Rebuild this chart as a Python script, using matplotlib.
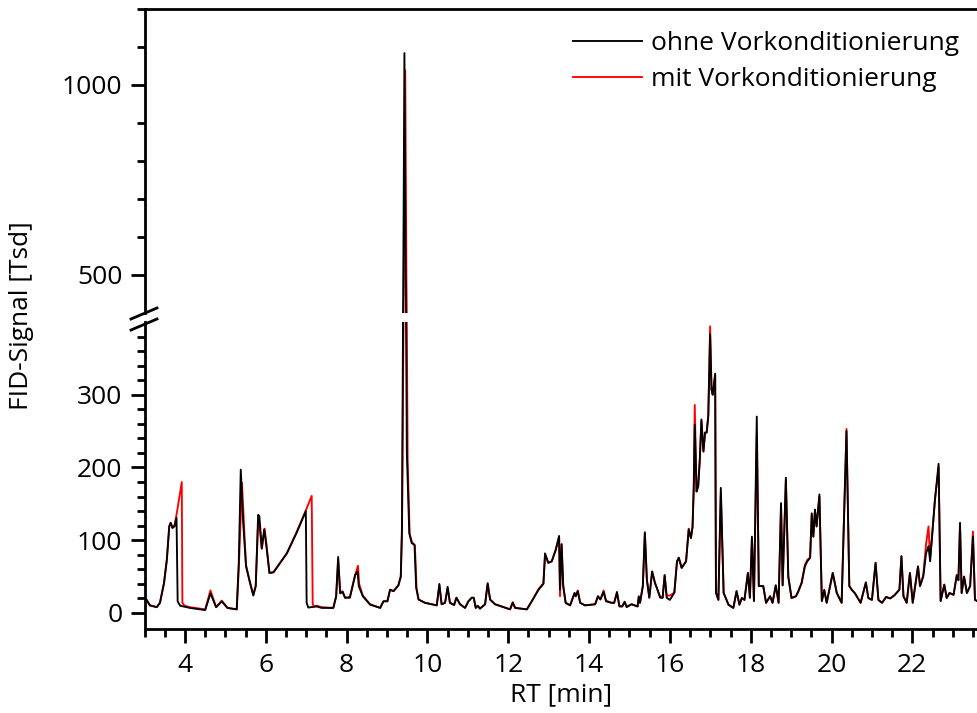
import matplotlib
matplotlib.use("Agg")
import matplotlib.pyplot as plt
from matplotlib.lines import Line2D
from matplotlib.ticker import MultipleLocator, FixedLocator

plt.rcParams['font.family'] = ['Open Sans', 'DejaVu Sans']

# chromatogram without pre-conditioning (retention time in min, FID signal in thousands)
rt_ohne = [3.00, 3.05, 3.13, 3.30, 3.38, 3.48, 3.55, 3.61, 3.645, 3.69, 3.74, 3.79, 3.818, 3.88,
           4.12, 4.50, 4.63, 4.77, 4.91, 5.05, 5.28, 5.33, 5.38, 5.44, 5.51, 5.61, 5.69, 5.75,
           5.81, 5.84, 5.90, 5.96, 6.005, 6.09, 6.19, 6.52, 6.76, 6.99, 7.01, 7.05, 7.26, 7.38,
           7.67, 7.74, 7.79, 7.84, 7.90, 7.96, 8.08, 8.21, 8.27, 8.30, 8.40, 8.58, 8.83, 8.91,
           9.01, 9.075, 9.16, 9.28, 9.34, 9.37, 9.40, 9.43, 9.46, 9.49, 9.55, 9.61, 9.68, 9.72,
           9.78, 9.94, 10.23, 10.295, 10.35, 10.435, 10.50, 10.556, 10.66, 10.716, 10.807, 10.93,
           11.013, 11.096, 11.145, 11.195, 11.245, 11.30, 11.426, 11.49, 11.55, 11.673, 12.045,
           12.11, 12.17, 12.46, 12.58, 12.75, 12.87, 12.91, 12.99, 13.076, 13.175, 13.258, 13.28,
           13.32, 13.36, 13.42, 13.53, 13.64, 13.67, 13.72, 13.78, 13.90, 14.15, 14.22, 14.28,
           14.36, 14.42, 14.56, 14.62, 14.69, 14.75, 14.82, 14.88, 14.93, 15.05, 15.20, 15.23,
           15.26, 15.33, 15.38, 15.43, 15.49, 15.56, 15.63, 15.68, 15.76, 15.82, 15.87, 15.92,
           16.00, 16.11, 16.176, 16.22, 16.29, 16.40, 16.466, 16.52, 16.56, 16.59, 16.615, 16.66,
           16.70, 16.74, 16.78, 16.83, 16.87, 16.91, 16.95, 16.995, 17.03, 17.06, 17.12, 17.14,
           17.20, 17.26, 17.33, 17.45, 17.57, 17.65, 17.72, 17.78, 17.845, 17.93, 17.98, 18.03,
           18.08, 18.15, 18.20, 18.31, 18.38, 18.48, 18.54, 18.62, 18.69, 18.75, 18.79, 18.87,
           18.93, 19.01, 19.12, 19.18, 19.26, 19.34, 19.40, 19.47, 19.51, 19.55, 19.59, 19.63,
           19.70, 19.76, 19.82, 19.88, 19.98, 20.03, 20.13, 20.25, 20.37, 20.44, 20.50, 20.58,
           20.72, 20.85, 20.91, 21.00, 21.09, 21.16, 21.25, 21.35, 21.45, 21.55, 21.68, 21.73,
           21.78, 21.86, 21.94, 22.01, 22.14, 22.19, 22.27, 22.34, 22.40, 22.44, 22.50, 22.56,
           22.65, 22.70, 22.79, 22.85, 22.92, 23.02, 23.10, 23.14, 23.18, 23.22, 23.28, 23.35,
           23.43, 23.50, 23.55, 23.62]
fid_ohne = [21, 18, 10.5, 8, 14, 41, 73, 119, 124, 117, 119, 131, 16, 10,
            7, 4, 27, 8, 16, 7, 5, 69, 197, 124, 64, 41, 24, 37,
            135, 133, 89, 115, 96, 55, 56, 82, 110, 140, 14, 7.5, 9, 7,
            7, 23, 77, 27, 29, 21, 21, 52, 57, 37, 23, 11.5, 7, 16,
            16, 32, 30, 38, 50, 120, 450, 1084, 500, 220, 110, 96, 94, 35,
            18.5, 14, 10.5, 40, 12, 14, 36, 14, 11, 21, 12, 7,
            16, 21, 21, 7, 10, 6, 12, 41, 18.5, 12, 5,
            14, 7, 5, 16, 32, 40, 82, 69, 71, 87, 106, 32,
            94, 37, 14, 10.5, 27.6, 23, 30, 14, 10.5, 12, 23, 18.5,
            29, 16, 14, 14, 29, 9, 9, 15.5, 8, 12, 9, 23,
            14, 37, 111, 46, 21, 57, 41, 34, 21, 21, 52, 21,
            18, 28, 71, 76, 62, 71, 115, 103, 118, 170, 259, 167,
            174, 211, 266, 222, 248, 248, 271, 383, 307, 300, 329, 28,
            18, 172, 27.5, 11.4, 7, 30, 11.4, 20.6, 18, 55, 21, 105,
            16.5, 270, 37, 37, 14, 23, 14, 38, 14, 151, 38, 186,
            50, 20.6, 23, 30, 41, 64, 71, 76, 137, 105, 142, 119,
            163, 16.5, 31.6, 14, 41, 55, 27.5, 14, 250, 37, 32, 27,
            14, 42, 20.6, 18, 69, 18, 14, 22, 20, 24, 32, 78,
            23, 14, 55, 14, 64, 37, 50, 82, 92, 71, 115, 156,
            205, 16.5, 39, 20.6, 27.5, 25, 52, 45, 124, 27.5, 50, 27.5,
            37, 105, 18, 16]

# chromatogram with pre-conditioning
rt_mit = [3.00, 3.05, 3.13, 3.30, 3.38, 3.48, 3.55, 3.61, 3.645, 3.69, 3.74, 3.79, 3.92, 3.935,
          3.99, 4.12, 4.50, 4.63, 4.77, 4.91, 5.05, 5.28, 5.33, 5.41, 5.46, 5.51, 5.61, 5.69,
          5.75, 5.81, 5.84, 5.90, 5.97, 6.01, 6.09, 6.19, 6.52, 6.76, 6.99, 7.135, 7.16, 7.20,
          7.26, 7.38, 7.67, 7.74, 7.79, 7.84, 7.90, 7.96, 8.08, 8.21, 8.28, 8.31, 8.40, 8.58,
          8.83, 8.91, 9.01, 9.075, 9.16, 9.28, 9.34, 9.37, 9.41, 9.45, 9.48, 9.51, 9.56, 9.62,
          9.69, 9.73, 9.78, 9.94, 10.23, 10.295, 10.35, 10.435, 10.50, 10.556, 10.66, 10.716,
          10.807, 10.93, 11.013, 11.096, 11.145, 11.195, 11.245, 11.30, 11.426, 11.49, 11.55,
          11.673, 12.045, 12.11, 12.17, 12.46, 12.58, 12.75, 12.87, 12.91, 12.99, 13.076,
          13.175, 13.258, 13.28, 13.32, 13.36, 13.42, 13.53, 13.64, 13.67, 13.72, 13.78, 13.90,
          14.15, 14.22, 14.28, 14.36, 14.42, 14.56, 14.62, 14.69, 14.75, 14.82, 14.88, 14.93,
          15.05, 15.20, 15.23, 15.26, 15.33, 15.38, 15.43, 15.49, 15.56, 15.63, 15.68, 15.76,
          15.82, 15.87, 15.92, 16.00, 16.11, 16.176, 16.22, 16.29, 16.40, 16.466, 16.52, 16.56,
          16.59, 16.615, 16.66, 16.70, 16.74, 16.78, 16.83, 16.87, 16.91, 16.95, 16.995, 17.03,
          17.06, 17.12, 17.14, 17.20, 17.26, 17.33, 17.45, 17.57, 17.65, 17.72, 17.78, 17.845,
          17.93, 17.98, 18.03, 18.08, 18.15, 18.20, 18.31, 18.38, 18.48, 18.54, 18.62, 18.69,
          18.75, 18.79, 18.87, 18.93, 19.01, 19.12, 19.18, 19.26, 19.34, 19.40, 19.47, 19.51,
          19.55, 19.59, 19.63, 19.70, 19.76, 19.82, 19.88, 19.98, 20.03, 20.13, 20.25, 20.37,
          20.44, 20.50, 20.58, 20.72, 20.85, 20.91, 21.00, 21.09, 21.16, 21.25, 21.35, 21.45,
          21.55, 21.68, 21.73, 21.78, 21.86, 21.94, 22.01, 22.14, 22.19, 22.27, 22.34, 22.40,
          22.44, 22.50, 22.56, 22.65, 22.70, 22.79, 22.85, 22.92, 23.02, 23.10, 23.14, 23.18,
          23.22, 23.28, 23.35, 23.43, 23.50, 23.55, 23.62]
fid_mit = [21, 18, 10.5, 8, 14, 41, 73, 119, 124, 117, 121, 135, 180, 14,
           10, 8, 5, 31, 8, 17, 7, 5, 60, 179, 120, 66, 42, 25,
           37, 124, 122, 88, 116, 97, 55, 56, 82, 111, 141, 161, 12, 9,
           10, 8, 7, 22, 72, 28, 30, 21, 22, 52, 65, 40, 24, 12, 7,
           16, 17, 32, 30, 38, 50, 110, 420, 1039, 480, 210, 108, 97, 92,
           34, 18.5, 14, 10.5, 38, 12, 14, 34, 14, 11, 21,
           12, 7, 16, 21, 21, 7, 10, 6, 12, 40, 18.5,
           12, 5, 15, 7, 5, 16, 33, 41, 80, 69, 71,
           87, 104, 23, 95, 37, 14, 10.5, 27, 23, 31, 14, 10.5,
           12, 23, 19, 31, 17, 14, 14, 27, 10, 9, 15, 9,
           12, 9, 22, 14, 37, 109, 46, 21, 57, 42, 34, 22,
           21, 52, 24, 24, 28, 71, 76, 62, 71, 116, 103, 118,
           175, 286, 167, 174, 211, 264, 222, 248, 248, 271, 394, 307,
           300, 327, 28, 18, 165, 27.5, 11.4, 7, 30, 11.4, 20.6, 18,
           55, 21, 102, 16.5, 245, 37, 37, 14, 23, 14, 38, 14,
           148, 38, 182, 50, 20.6, 23, 30, 42, 66, 73, 76, 135,
           105, 142, 119, 160, 16.5, 31.6, 14, 41, 55, 27.5, 14, 253,
           37, 32, 27, 14, 42, 20.6, 18, 69, 18, 14, 22, 20,
           24, 32, 78, 23, 14, 55, 14, 64, 37, 52, 95, 119,
           75, 112, 156, 200, 16.5, 39, 20.6, 27.5, 25, 52, 45, 120,
           27.5, 50, 27.5, 37, 112, 18, 16]

x_range = (3.0, 23.6)
lower_range = (-22, 400)
upper_range = (400, 1200)
lower_major = [0, 100, 200, 300]

FS = 19
W, H = 977, 713
fig = plt.figure(figsize=(W / 100, H / 100), dpi=100)

left = 144.6 / W
ax_lo = fig.add_axes([left, 1 - 629 / H, 1 - left, (629 - 322) / H])
ax_hi = fig.add_axes([left, 1 - 313 / H, 1 - left, (313 - 9) / H])

for ax in (ax_lo, ax_hi):
    ax.plot(rt_mit, fid_mit, color='#ff0000', lw=1.35, label='mit Vorkonditionierung')
    ax.plot(rt_ohne, fid_ohne, color='#000000', lw=1.35, label='ohne Vorkonditionierung')
    ax.set_xlim(*x_range)
    ax.spines['right'].set_visible(False)
    for s in ax.spines.values():
        s.set_linewidth(2.0)
    ax.tick_params(which='major', length=10, width=2.0, labelsize=FS, pad=6)
    ax.tick_params(which='minor', length=5.5, width=2.0)

ax_lo.set_ylim(*lower_range)
ax_hi.set_ylim(*upper_range)

ax_lo.spines['top'].set_visible(False)
ax_hi.spines['bottom'].set_visible(False)
ax_hi.tick_params(axis='x', which='both', bottom=False, labelbottom=False)

ax_lo.xaxis.set_major_locator(MultipleLocator(2))
ax_lo.xaxis.set_minor_locator(MultipleLocator(0.5))
ax_lo.tick_params(axis='x', which='major', pad=7)
ax_lo.yaxis.set_major_locator(FixedLocator(lower_major))
ax_lo.yaxis.set_minor_locator(FixedLocator(range(20, 400, 20)))
ax_hi.yaxis.set_major_locator(FixedLocator([500, 1000]))
ax_hi.yaxis.set_minor_locator(FixedLocator(range(600, 1201, 100)))

ax_lo.set_xlabel('RT [min]', fontsize=FS, labelpad=3)
fig.text(22 / W, 1 - 316 / H, 'FID-Signal [Tsd]', rotation=90, fontsize=FS,
         ha='center', va='center')

# slanted break marks across the y axis
for y0 in (319, 330):
    fig.add_artist(Line2D([131 / W, 157 / W], [1 - y0 / H, 1 - (y0 - 11) / H],
                          color='black', lw=2.0, transform=fig.transFigure))

h, l = ax_hi.get_legend_handles_labels()
ax_hi.legend(h[::-1], l[::-1], loc='upper left', bbox_to_anchor=(573 / W, 1 - 31 / H),
             bbox_transform=fig.transFigure, frameon=False, fontsize=FS,
             handlelength=2.6, handletextpad=0.34, labelspacing=0.42,
             borderpad=0, borderaxespad=0)

fig.savefig('out.png', dpi=100)
